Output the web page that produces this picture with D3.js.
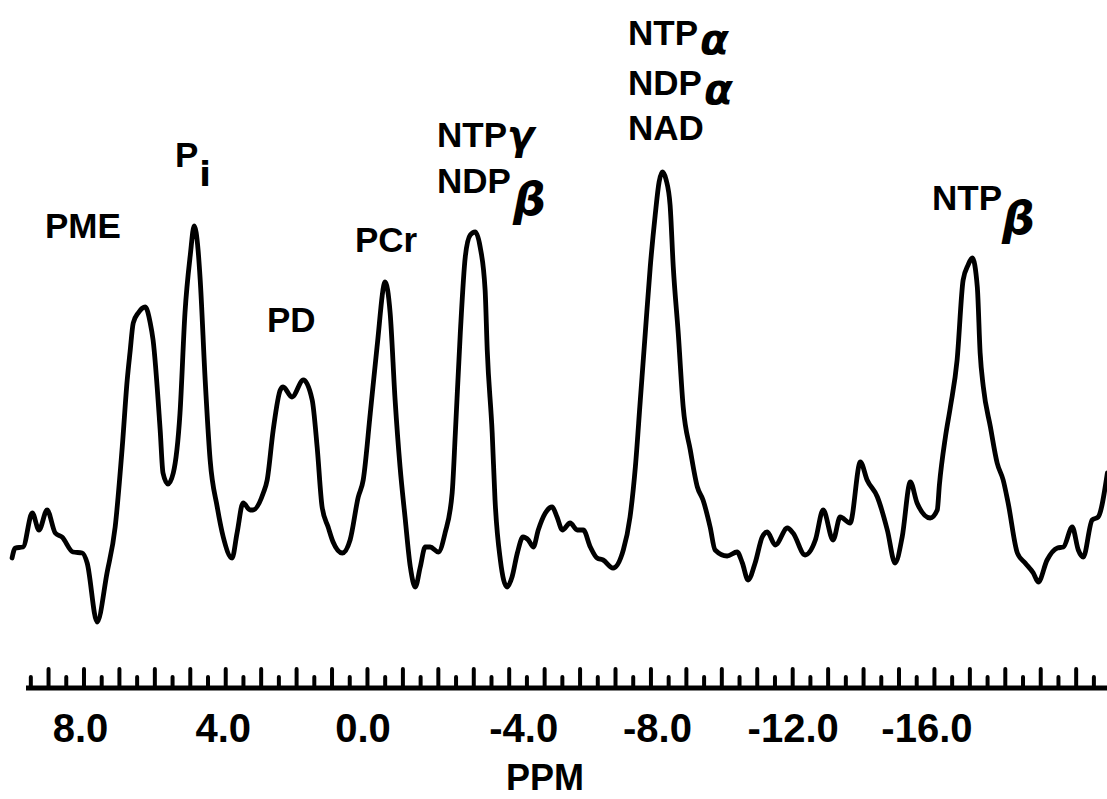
<!DOCTYPE html>
<html>
<head>
<meta charset="utf-8">
<script src="https://cdn.jsdelivr.net/npm/d3@7/dist/d3.min.js"></script>
<style>
  html, body { margin: 0; padding: 0; background: #fff; }
  svg { display: block; }
  text { font-family: "Liberation Sans", Arial, sans-serif; font-weight: bold; fill: #000; }
</style>
</head>
<body>
<svg id="chart" width="1107" height="799"></svg>
<script>
// chemical shift (ppm) of traced spectrum points
const ppm = [10.03, 9.94, 9.72, 9.46, 9.27, 9.04, 8.81, 8.62, 8.31, 8.05, 7.91, 7.63, 7.35, 7.12, 6.92, 6.78, 6.70, 6.61, 6.47, 6.27,
  6.13, 6.05, 5.85, 5.77, 5.63, 5.48, 5.29, 5.15, 5.00, 4.89, 4.78, 4.72, 4.58, 4.44, 4.24, 4.07, 3.82, 3.68, 3.51, 3.31,
  3.23, 2.94, 2.83, 2.66, 2.46, 2.38, 2.13, 1.81, 1.56, 1.42, 1.28, 1.11, 0.97, 0.71, 0.49, 0.26, 0.12, -0.08, -0.27, -0.50,
  -0.64, -0.78, -0.92, -1.06, -1.21, -1.35, -1.49, -1.63, -1.77, -2.00, -2.19, -2.39, -2.48, -2.62, -2.76, -2.90, -3.04, -3.18, -3.32, -3.38,
  -3.52, -3.60, -3.75, -3.94, -4.08, -4.23, -4.39, -4.54, -4.68, -4.82, -5.02, -5.21, -5.35, -5.50, -5.72, -5.92, -6.09, -6.29, -6.48, -6.65,
  -6.93, -7.22, -7.41, -7.56, -7.70, -7.84, -7.98, -8.12, -8.23, -8.32, -8.43, -8.54, -8.63, -8.77, -8.91, -9.11, -9.31, -9.47, -9.67, -9.81,
  -10.15, -10.43, -10.58, -10.74, -10.94, -11.14, -11.28, -11.51, -11.85, -12.01, -12.35, -12.64, -12.86, -13.14, -13.34, -13.62, -13.91, -14.10, -14.39, -14.67,
  -14.89, -15.09, -15.32, -15.51, -15.88, -16.08, -16.14, -16.31, -16.45, -16.64, -16.81, -16.95, -17.07, -17.21, -17.29, -17.38, -17.58, -17.77, -17.94, -18.08,
  -18.34, -18.56, -18.79, -18.93, -19.18, -19.47, -19.64, -19.89, -20.06, -20.20, -20.45, -20.62, -20.88];
// signal intensity (arbitrary units)
const intensity = [16.4, 18.4, 18.6, 25.4, 22.0, 26.0, 21.4, 20.6, 17.6, 17.4, 15.4, 3.6, 13.4, 22.6, 38.6, 52.0, 57.6, 63.4, 65.4, 66.6,
  63.4, 60.0, 42.0, 33.4, 31.2, 33.4, 45.4, 65.4, 77.0, 82.8, 78.0, 72.0, 52.0, 36.0, 26.6, 20.6, 16.4, 21.4, 27.4, 26.0,
  26.0, 29.4, 32.0, 42.0, 50.0, 50.6, 48.6, 52.0, 48.0, 38.6, 26.6, 22.6, 19.6, 17.4, 20.0, 28.6, 32.0, 45.4, 58.6, 71.6,
  65.4, 48.0, 34.6, 24.6, 14.6, 10.6, 14.6, 18.6, 18.6, 17.6, 21.4, 29.4, 41.4, 61.4, 76.6, 81.0, 81.6, 78.6, 70.0, 58.0,
  41.4, 28.0, 16.0, 10.6, 12.6, 17.4, 20.6, 20.0, 18.6, 22.0, 25.4, 26.6, 24.6, 22.0, 23.4, 22.0, 22.0, 18.6, 16.4, 16.0,
  14.4, 18.0, 24.6, 34.6, 48.0, 61.4, 74.6, 85.0, 91.6, 93.6, 92.0, 87.0, 74.6, 61.4, 46.6, 38.0, 30.6, 28.0, 22.6, 18.0,
  16.8, 17.6, 15.4, 12.0, 15.4, 20.6, 21.6, 19.0, 22.4, 21.4, 17.0, 20.0, 26.0, 20.0, 24.6, 23.4, 35.6, 32.0, 28.6, 22.0,
  15.4, 20.6, 31.6, 27.4, 24.4, 26.0, 31.0, 40.6, 46.6, 56.0, 72.0, 75.0, 76.4, 70.6, 57.4, 50.6, 42.6, 35.4, 32.0, 27.4,
  17.4, 15.4, 13.4, 11.6, 16.0, 18.4, 18.6, 22.6, 18.0, 16.6, 24.0, 24.6, 33.4];

const tickValues = [8, 4, 0, -4, -8, -12, -16];
const tickLabels = ["8.0", "4.0", "0.0", "-4.0", "-8.0", "-12.0", "-16.0"];
const axisTitle = "PPM";

// peak annotations: main text, greek/sub suffix
const peakNames = ["PME", "P", "PD", "PCr", "NTP", "NDP", "NTP", "NDP", "NAD", "NTP"];
const peakSuffix = ["", "i", "", "", "γ", "β", "α", "α", "", "β"];

// ---- layout (pixels) ----
const W = 1107, H = 799;
const tickLabelShift = [-4, -3, -5, 14, 6, 0, -8];
const labelLayout = [
  {x: 45, y: 238}, {x: 175, y: 167}, {x: 267, y: 332}, {x: 355, y: 252},
  {x: 437, y: 147}, {x: 437, y: 193}, {x: 628, y: 45}, {x: 628, y: 95},
  {x: 628, y: 140}, {x: 932, y: 210}
];
const suffixLayout = [
  null, {dx: 1, dy: 19, size: 34, italic: false},
  null, null,
  {dx: 0, dy: 2, size: 40, italic: true},
  {dx: 2, dy: 22, size: 46, italic: true},
  {dx: 2, dy: 9, size: 42, italic: true},
  {dx: 2, dy: 9, size: 42, italic: true},
  null,
  {dx: 0, dy: 24, size: 46, italic: true}
];

const svg = d3.select("#chart");
const x = d3.scaleLinear().domain([10.37, -20.87]).range([0, W]);
const y = d3.scaleLinear().domain([0, 100]).range([640, 140]);

const data = ppm.map((p, i) => ({p, v: intensity[i]}));

// spectrum
svg.append("path")
  .datum(data)
  .attr("fill", "none")
  .attr("stroke", "#000")
  .attr("stroke-width", 4.8)
  .attr("stroke-linejoin", "round")
  .attr("stroke-linecap", "round")
  .attr("d", d3.line().x(d => x(d.p)).y(d => y(d.v)).curve(d3.curveMonotoneX));

// axis
const axisY = 688;
const axisG = svg.append("g").attr("transform", `translate(0,${axisY})`);
const minorTicks = d3.range(10, -21, -0.5).filter(t => x(t) > 28 && x(t) < W);
axisG.append("line")
  .attr("x1", 26).attr("x2", W)
  .attr("stroke", "#000").attr("stroke-width", 5);
axisG.selectAll("line.tk")
  .data(minorTicks)
  .join("line")
  .attr("class", "tk")
  .attr("x1", d => x(d)).attr("x2", d => x(d))
  .attr("y1", 0)
  .attr("y2", d => Number.isInteger(d) ? -19 : -11)
  .attr("stroke", "#000").attr("stroke-width", 4)
  .attr("stroke-linecap", "round");

const labelAxis = d3.axisBottom(x)
  .tickValues(tickValues)
  .tickFormat((d, i) => tickLabels[i])
  .tickSize(0).tickPadding(0);
const la = svg.append("g").attr("transform", `translate(0,${axisY})`).call(labelAxis);
la.select(".domain").remove();
la.selectAll("text")
  .attr("y", 54).attr("dy", 0)
  .attr("dx", (d, i) => tickLabelShift[i])
  .style("font-size", "40px")
  .style("font-family", "'Liberation Sans', Arial, sans-serif")
  .style("font-weight", "bold")
  .attr("fill", "#000");

svg.append("text")
  .attr("x", 545).attr("y", 790)
  .attr("text-anchor", "middle")
  .style("font-size", "36px")
  .text(axisTitle);

// peak labels
peakNames.forEach((name, i) => {
  const L = labelLayout[i];
  const t = svg.append("text").attr("x", L.x).attr("y", L.y).style("font-size", "35px");
  t.append("tspan").text(name);
  const s = suffixLayout[i];
  if (s && peakSuffix[i]) {
    t.append("tspan")
      .attr("dx", s.dx).attr("dy", s.dy)
      .style("font-size", s.size + "px")
      .style("font-style", s.italic ? "italic" : "normal")
      .style("font-family", "'DejaVu Sans', sans-serif")
      .text(peakSuffix[i]);
  }
});
</script>
</body>
</html>
